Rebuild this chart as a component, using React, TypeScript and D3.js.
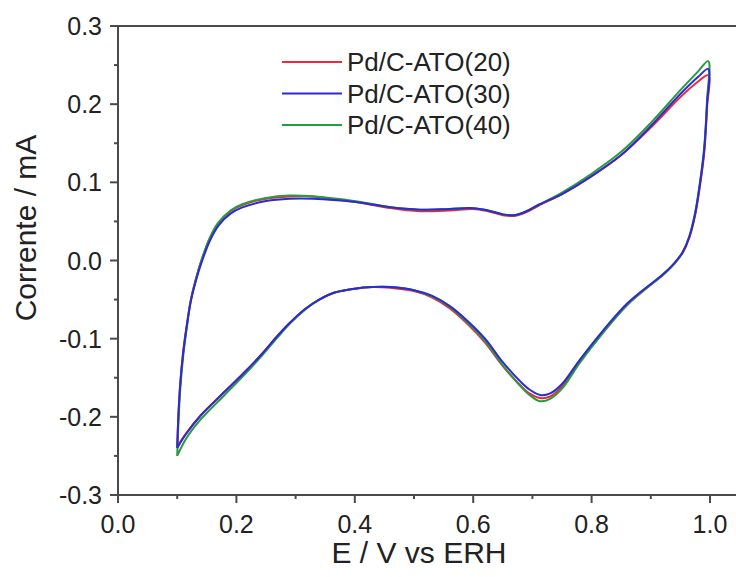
import React from "react";
import * as d3 from "d3";

const POTENTIAL = [
  0.100, 0.102, 0.105, 0.110, 0.116, 0.123, 0.132, 0.140, 0.155, 0.170,
  0.190, 0.210, 0.250, 0.290, 0.330, 0.370, 0.410, 0.460, 0.510, 0.560,
  0.600, 0.625, 0.650, 0.670, 0.690, 0.710, 0.750, 0.800, 0.850, 0.900,
  0.950, 0.980, 0.997,
  0.995, 0.990, 0.983, 0.975, 0.965, 0.954, 0.940, 0.920, 0.900, 0.860,
  0.820, 0.780, 0.750, 0.730, 0.713, 0.695, 0.680, 0.650, 0.620, 0.590,
  0.560, 0.530, 0.500, 0.460, 0.430, 0.400, 0.366, 0.340, 0.316, 0.290,
  0.270, 0.245, 0.215, 0.180, 0.140, 0.115, 0.100,
];

const CURRENT_20 = [
  -0.238, -0.198, -0.158, -0.117, -0.083, -0.050, -0.022, -0.002, 0.028, 0.048,
  0.063, 0.071, 0.079, 0.082, 0.082, 0.078, 0.074, 0.067, 0.063, 0.064,
  0.066, 0.063, 0.058, 0.057, 0.062, 0.070, 0.085, 0.108, 0.135, 0.170,
  0.209, 0.229, 0.237,
  0.195, 0.136, 0.095, 0.058, 0.029, 0.010, -0.004, -0.019, -0.031, -0.057,
  -0.091, -0.129, -0.161, -0.174, -0.176, -0.170, -0.160, -0.135, -0.105, -0.081,
  -0.061, -0.047, -0.039, -0.035, -0.034, -0.036, -0.041, -0.050, -0.062, -0.080,
  -0.096, -0.118, -0.142, -0.168, -0.198, -0.221, -0.238,
];

const CURRENT_30 = [
  -0.240, -0.200, -0.160, -0.119, -0.085, -0.052, -0.025, -0.005, 0.025, 0.045,
  0.060, 0.068, 0.076, 0.079, 0.079, 0.077, 0.074, 0.068, 0.065, 0.066,
  0.067, 0.064, 0.059, 0.058, 0.063, 0.071, 0.085, 0.108, 0.135, 0.172,
  0.213, 0.235, 0.245,
  0.200, 0.140, 0.098, 0.060, 0.030, 0.011, -0.003, -0.018, -0.030, -0.055,
  -0.089, -0.127, -0.158, -0.170, -0.172, -0.165, -0.155, -0.130, -0.100, -0.077,
  -0.058, -0.045, -0.038, -0.034, -0.034, -0.036, -0.041, -0.050, -0.062, -0.080,
  -0.096, -0.118, -0.142, -0.168, -0.198, -0.222, -0.240,
];

const CURRENT_40 = [
  -0.250, -0.208, -0.166, -0.123, -0.087, -0.052, -0.023, -0.002, 0.029, 0.049,
  0.064, 0.072, 0.080, 0.083, 0.082, 0.079, 0.075, 0.068, 0.065, 0.066,
  0.067, 0.064, 0.059, 0.058, 0.063, 0.071, 0.087, 0.111, 0.139, 0.176,
  0.218, 0.242, 0.255,
  0.205, 0.143, 0.100, 0.062, 0.031, 0.011, -0.004, -0.019, -0.031, -0.057,
  -0.092, -0.131, -0.164, -0.177, -0.180, -0.172, -0.161, -0.134, -0.103, -0.079,
  -0.059, -0.046, -0.038, -0.034, -0.034, -0.036, -0.041, -0.050, -0.063, -0.081,
  -0.098, -0.120, -0.145, -0.172, -0.203, -0.228, -0.250,
];

const SERIES_NAMES = ["Pd/C-ATO(20)", "Pd/C-ATO(30)", "Pd/C-ATO(40)"];
const SERIES_COLORS = ["#ee2a3a", "#2b2bd0", "#2a9a3e"];
const X_TICKS = [0.0, 0.2, 0.4, 0.6, 0.8, 1.0];
const X_MINOR = [0.1, 0.3, 0.5, 0.7, 0.9];
const Y_TICKS = [-0.3, -0.2, -0.1, 0.0, 0.1, 0.2, 0.3];
const Y_MINOR = [-0.25, -0.15, -0.05, 0.05, 0.15, 0.25];

const W = 736;
const H = 577;
const FONT = "'Liberation Sans', Arial, 'DejaVu Sans', sans-serif";

export default function App() {
  const x = d3.scaleLinear().domain([0, 1]).range([118, 710]);
  const y = d3.scaleLinear().domain([-0.3, 0.3]).range([495, 26]);
  const axisColor = "#4a4a4a";
  const textColor = "#222";

  const seriesData = [CURRENT_20, CURRENT_30, CURRENT_40];
  const line = d3
    .line<[number, number]>()
    .x((d) => x(d[0]))
    .y((d) => y(d[1]))
    .curve(d3.curveCatmullRom.alpha(0.5));

  const drawOrder = [0, 2, 1];

  return (
    <svg
      width={W}
      height={H}
      style={{ position: "absolute", left: 0, top: 0, background: "#fff" }}
      fontFamily={FONT}
    >
      <rect x={0} y={0} width={W} height={H} fill="#fff" />
      {/* curves */}
      {drawOrder.map((si) => {
        const pts: [number, number][] = POTENTIAL.map((p, i) => [p, seriesData[si][i]]);
        return (
          <path
            key={si}
            d={line(pts) || ""}
            fill="none"
            stroke={SERIES_COLORS[si]}
            strokeWidth={2}
            strokeLinejoin="round"
          />
        );
      })}
      {/* axes */}
      <line x1={118} x2={W} y1={y(0.3)} y2={y(0.3)} stroke={axisColor} strokeWidth={2} />
      <line x1={118} x2={W} y1={y(-0.3)} y2={y(-0.3)} stroke={axisColor} strokeWidth={2} />
      <line x1={x(0)} x2={x(0)} y1={y(0.3) - 1} y2={y(-0.3) + 1} stroke={axisColor} strokeWidth={2} />
      {X_TICKS.map((t) => (
        <g key={"xt" + t}>
          <line x1={x(t)} x2={x(t)} y1={y(-0.3)} y2={y(-0.3) + 8} stroke={axisColor} strokeWidth={2} />
          <text x={x(t)} y={533} textAnchor="middle" fontSize={25} fill={textColor}>
            {t.toFixed(1)}
          </text>
        </g>
      ))}
      {X_MINOR.map((t) => (
        <line key={"xm" + t} x1={x(t)} x2={x(t)} y1={y(-0.3)} y2={y(-0.3) + 4} stroke={axisColor} strokeWidth={2} />
      ))}
      {Y_TICKS.map((t) => (
        <g key={"yt" + t}>
          <line x1={x(0) - 8} x2={x(0)} y1={y(t)} y2={y(t)} stroke={axisColor} strokeWidth={2} />
          <text x={102} y={y(t)} textAnchor="end" dominantBaseline="central" fontSize={25} fill={textColor}>
            {t.toFixed(1)}
          </text>
        </g>
      ))}
      {Y_MINOR.map((t) => (
        <line key={"ym" + t} x1={x(0) - 4} x2={x(0)} y1={y(t)} y2={y(t)} stroke={axisColor} strokeWidth={2} />
      ))}
      {/* axis titles */}
      <text x={419} y={563} textAnchor="middle" fontSize={30} fill={textColor}>
        E / V vs ERH
      </text>
      <text
        transform={`translate(36,228) rotate(-90)`}
        textAnchor="middle"
        fontSize={30}
        fill={textColor}
      >
        Corrente / mA
      </text>
      {/* legend */}
      {SERIES_NAMES.map((name, i) => {
        const ly = 62 + i * 31.5;
        return (
          <g key={name}>
            <line x1={282} x2={342} y1={ly} y2={ly} stroke={SERIES_COLORS[i]} strokeWidth={2} />
            <text x={347} y={ly} dominantBaseline="central" fontSize={26} fill={textColor}>
              {name}
            </text>
          </g>
        );
      })}
    </svg>
  );
}
